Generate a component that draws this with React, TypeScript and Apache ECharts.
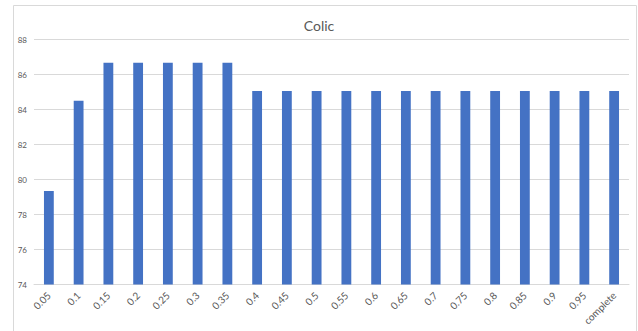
import React, { useEffect, useRef } from "react";
import * as echarts from "echarts";

// Thresholds on the category axis and the score measured for each
const categories = [
  "0.05", "0.1", "0.15", "0.2", "0.25", "0.3", "0.35", "0.4", "0.45", "0.5",
  "0.55", "0.6", "0.65", "0.7", "0.75", "0.8", "0.85", "0.9", "0.95", "complete",
];
const scores = [
  79.34, 84.5, 86.67, 86.67, 86.67, 86.67, 86.67, 85.06, 85.06, 85.06,
  85.06, 85.06, 85.06, 85.06, 85.06, 85.06, 85.06, 85.06, 85.06, 85.06,
];
const chartTitle = "Colic";
const yMin = 74;
const yMax = 88;
const yStep = 2;

const FONT = "Lato, 'Noto Sans', sans-serif";
const LABEL = "#595959";
const GRID = "#d9d9d9";

export default function App() {
  const ref = useRef<HTMLDivElement>(null);

  useEffect(() => {
    if (!ref.current) return;
    const chart = echarts.init(ref.current, undefined, { renderer: "svg" });
    chart.setOption({
      animation: false,
      backgroundColor: "#ffffff",
      textStyle: { fontFamily: FONT },
      title: {
        text: chartTitle,
        left: "center",
        top: 13,
        textStyle: { fontFamily: FONT, fontSize: 14, fontWeight: "normal", color: LABEL },
      },
      graphic: [
        {
          type: "rect",
          shape: { x: 13.5, y: 5.5, width: 623, height: 340 },
          style: { fill: "none", stroke: GRID, lineWidth: 1 },
          silent: true,
          z: -1,
        },
      ],
      grid: { left: 34, right: 9, top: 39.5, bottom: 46.5, containLabel: false },
      xAxis: {
        type: "category",
        data: categories,
        axisLine: { lineStyle: { color: GRID, width: 1 } },
        axisTick: { show: false },
        axisLabel: {
          rotate: 45,
          interval: 0,
          margin: 9,
          fontSize: 10,
          color: LABEL,
          fontFamily: FONT,
        },
      },
      yAxis: {
        type: "value",
        min: yMin,
        max: yMax,
        interval: yStep,
        axisLine: { show: false },
        axisTick: { show: false },
        splitLine: { lineStyle: { color: GRID, width: 1 } },
        axisLabel: { fontSize: 8, color: LABEL, margin: 7, fontFamily: FONT },
      },
      series: [
        {
          type: "bar",
          data: scores,
          barWidth: "33%",
          itemStyle: { color: "#4472C4" },
        },
      ],
    });
    return () => chart.dispose();
  }, []);

  return (
    <div
      ref={ref}
      style={{ position: "fixed", left: 0, top: 0, width: 638, height: 331 }}
    />
  );
}
